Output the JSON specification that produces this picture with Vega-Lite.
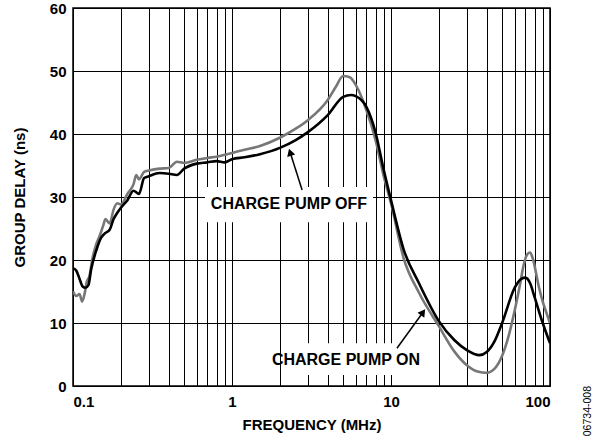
{
  "$schema": "https://vega.github.io/schema/vega-lite/v6.json",
  "width": 477,
  "height": 378,
  "autosize": "none",
  "padding": {"left": 73, "top": 8, "right": 55, "bottom": 57},
  "background": "white",
  "title": {"text": "06734-008", "orient": "right", "anchor": "end", "frame": "group", "angle": -90, "fontSize": 10.5, "fontWeight": "normal", "font": "Liberation Sans", "color": "black", "offset": 22},
  "config": {
    "font": "Liberation Sans",
    "view": {"stroke": "black", "strokeWidth": 1.5},
    "axis": {
      "grid": true, "gridColor": "black", "gridOpacity": 1, "gridWidth": 1,
      "domain": false, "ticks": false,
      "labelFontSize": 15, "labelFontWeight": "bold", "labelColor": "black",
      "titleFontSize": 15, "titleFontWeight": "bold", "titleColor": "black"
    }
  },
  "datasets": {
    "curves": [
      {"f": 0.1, "delay": 15.0, "series": "ON"},
      {"f": 0.105, "delay": 14.3, "series": "ON"},
      {"f": 0.11, "delay": 14.6, "series": "ON"},
      {"f": 0.114, "delay": 13.4, "series": "ON"},
      {"f": 0.118, "delay": 14.5, "series": "ON"},
      {"f": 0.122, "delay": 16.5, "series": "ON"},
      {"f": 0.127, "delay": 17.5, "series": "ON"},
      {"f": 0.132, "delay": 20.0, "series": "ON"},
      {"f": 0.14, "delay": 22.5, "series": "ON"},
      {"f": 0.148, "delay": 24.0, "series": "ON"},
      {"f": 0.155, "delay": 25.5, "series": "ON"},
      {"f": 0.16, "delay": 26.5, "series": "ON"},
      {"f": 0.17, "delay": 25.8, "series": "ON"},
      {"f": 0.18, "delay": 28.0, "series": "ON"},
      {"f": 0.19, "delay": 29.0, "series": "ON"},
      {"f": 0.2, "delay": 28.8, "series": "ON"},
      {"f": 0.22, "delay": 30.5, "series": "ON"},
      {"f": 0.24, "delay": 32.0, "series": "ON"},
      {"f": 0.25, "delay": 33.5, "series": "ON"},
      {"f": 0.26, "delay": 32.8, "series": "ON"},
      {"f": 0.28, "delay": 34.0, "series": "ON"},
      {"f": 0.3, "delay": 34.2, "series": "ON"},
      {"f": 0.35, "delay": 34.5, "series": "ON"},
      {"f": 0.4, "delay": 34.6, "series": "ON"},
      {"f": 0.45, "delay": 35.6, "series": "ON"},
      {"f": 0.5, "delay": 35.4, "series": "ON"},
      {"f": 0.6, "delay": 35.9, "series": "ON"},
      {"f": 0.7, "delay": 36.2, "series": "ON"},
      {"f": 0.8, "delay": 36.4, "series": "ON"},
      {"f": 1.0, "delay": 37.0, "series": "ON"},
      {"f": 1.2, "delay": 37.5, "series": "ON"},
      {"f": 1.5, "delay": 38.1, "series": "ON"},
      {"f": 2.0, "delay": 39.4, "series": "ON"},
      {"f": 2.5, "delay": 40.8, "series": "ON"},
      {"f": 3.0, "delay": 42.2, "series": "ON"},
      {"f": 4.0, "delay": 45.4, "series": "ON"},
      {"f": 4.5, "delay": 47.5, "series": "ON"},
      {"f": 5.0, "delay": 49.2, "series": "ON"},
      {"f": 5.5, "delay": 49.0, "series": "ON"},
      {"f": 6.0, "delay": 47.8, "series": "ON"},
      {"f": 7.0, "delay": 43.8, "series": "ON"},
      {"f": 8.0, "delay": 39.0, "series": "ON"},
      {"f": 9.0, "delay": 33.3, "series": "ON"},
      {"f": 10.0, "delay": 29.0, "series": "ON"},
      {"f": 12.0, "delay": 20.3, "series": "ON"},
      {"f": 15.0, "delay": 14.8, "series": "ON"},
      {"f": 20.0, "delay": 9.5, "series": "ON"},
      {"f": 25.0, "delay": 5.5, "series": "ON"},
      {"f": 30.0, "delay": 3.3, "series": "ON"},
      {"f": 35.0, "delay": 2.3, "series": "ON"},
      {"f": 40.0, "delay": 2.1, "series": "ON"},
      {"f": 45.0, "delay": 2.8, "series": "ON"},
      {"f": 50.0, "delay": 4.8, "series": "ON"},
      {"f": 55.0, "delay": 8.0, "series": "ON"},
      {"f": 60.0, "delay": 12.0, "series": "ON"},
      {"f": 65.0, "delay": 16.3, "series": "ON"},
      {"f": 68.0, "delay": 19.0, "series": "ON"},
      {"f": 72.0, "delay": 20.9, "series": "ON"},
      {"f": 75.0, "delay": 21.2, "series": "ON"},
      {"f": 78.0, "delay": 20.2, "series": "ON"},
      {"f": 85.0, "delay": 15.8, "series": "ON"},
      {"f": 90.0, "delay": 13.4, "series": "ON"},
      {"f": 95.0, "delay": 11.6, "series": "ON"},
      {"f": 100.0, "delay": 10.0, "series": "ON"},
      {"f": 0.1, "delay": 18.7, "series": "OFF"},
      {"f": 0.105, "delay": 18.3, "series": "OFF"},
      {"f": 0.11, "delay": 17.0, "series": "OFF"},
      {"f": 0.115, "delay": 15.8, "series": "OFF"},
      {"f": 0.12, "delay": 15.6, "series": "OFF"},
      {"f": 0.125, "delay": 16.0, "series": "OFF"},
      {"f": 0.13, "delay": 18.5, "series": "OFF"},
      {"f": 0.14, "delay": 21.5, "series": "OFF"},
      {"f": 0.15, "delay": 23.5, "series": "OFF"},
      {"f": 0.16, "delay": 24.3, "series": "OFF"},
      {"f": 0.17, "delay": 24.8, "series": "OFF"},
      {"f": 0.18, "delay": 26.5, "series": "OFF"},
      {"f": 0.19, "delay": 27.5, "series": "OFF"},
      {"f": 0.2, "delay": 28.3, "series": "OFF"},
      {"f": 0.22, "delay": 29.5, "series": "OFF"},
      {"f": 0.24, "delay": 31.0, "series": "OFF"},
      {"f": 0.26, "delay": 30.5, "series": "OFF"},
      {"f": 0.28, "delay": 33.0, "series": "OFF"},
      {"f": 0.3, "delay": 33.3, "series": "OFF"},
      {"f": 0.35, "delay": 33.8, "series": "OFF"},
      {"f": 0.4, "delay": 33.7, "series": "OFF"},
      {"f": 0.45, "delay": 33.5, "series": "OFF"},
      {"f": 0.5, "delay": 34.5, "series": "OFF"},
      {"f": 0.6, "delay": 35.3, "series": "OFF"},
      {"f": 0.7, "delay": 35.5, "series": "OFF"},
      {"f": 0.8, "delay": 35.7, "series": "OFF"},
      {"f": 0.9, "delay": 35.5, "series": "OFF"},
      {"f": 1.0, "delay": 36.0, "series": "OFF"},
      {"f": 1.2, "delay": 36.3, "series": "OFF"},
      {"f": 1.5, "delay": 36.8, "series": "OFF"},
      {"f": 2.0, "delay": 37.8, "series": "OFF"},
      {"f": 2.5, "delay": 39.0, "series": "OFF"},
      {"f": 3.0, "delay": 40.3, "series": "OFF"},
      {"f": 4.0, "delay": 43.0, "series": "OFF"},
      {"f": 5.0, "delay": 45.9, "series": "OFF"},
      {"f": 5.6, "delay": 46.2, "series": "OFF"},
      {"f": 6.0, "delay": 46.0, "series": "OFF"},
      {"f": 7.0, "delay": 44.3, "series": "OFF"},
      {"f": 8.0, "delay": 40.2, "series": "OFF"},
      {"f": 9.0, "delay": 34.3, "series": "OFF"},
      {"f": 10.0, "delay": 29.5, "series": "OFF"},
      {"f": 12.0, "delay": 21.7, "series": "OFF"},
      {"f": 15.0, "delay": 16.3, "series": "OFF"},
      {"f": 20.0, "delay": 10.3, "series": "OFF"},
      {"f": 25.0, "delay": 7.3, "series": "OFF"},
      {"f": 30.0, "delay": 5.7, "series": "OFF"},
      {"f": 36.0, "delay": 4.9, "series": "OFF"},
      {"f": 40.0, "delay": 5.4, "series": "OFF"},
      {"f": 45.0, "delay": 7.2, "series": "OFF"},
      {"f": 50.0, "delay": 10.0, "series": "OFF"},
      {"f": 60.0, "delay": 15.6, "series": "OFF"},
      {"f": 66.0, "delay": 17.0, "series": "OFF"},
      {"f": 70.0, "delay": 17.2, "series": "OFF"},
      {"f": 75.0, "delay": 16.3, "series": "OFF"},
      {"f": 80.0, "delay": 14.1, "series": "OFF"},
      {"f": 90.0, "delay": 10.0, "series": "OFF"},
      {"f": 100.0, "delay": 6.8, "series": "OFF"}
    ],
    "labels": [
      {"label": "CHARGE PUMP OFF", "fx": 2.28, "ly": 28.9, "bx1": 0.676, "bx2": 7.71, "by1": 26.0, "by2": 31.6},
      {"label": "CHARGE PUMP ON", "fx": 5.21, "ly": 4.1, "bx1": 3.0, "bx2": 10.7, "by1": 1.75, "by2": 6.8}
    ],
    "arrows": [
      {"name": "OFF", "x1": 2.76, "y1": 31.1, "x2": 2.32, "y2": 37.1},
      {"name": "ON", "x1": 10.9, "y1": 6.0, "x2": 15.9, "y2": 11.7}
    ]
  },
  "layer": [
    {
      "data": {"name": "curves"},
      "mark": {"type": "line", "strokeWidth": 2.6, "clip": true, "interpolate": "monotone"},
      "encoding": {
        "x": {
          "field": "f", "type": "quantitative",
          "scale": {"type": "log", "domain": [0.1, 100], "nice": false},
          "axis": {
            "title": "FREQUENCY (MHz)",
            "values": [0.1, 0.2, 0.3, 0.4, 0.5, 0.6, 0.7, 0.8, 0.9, 1, 2, 3, 4, 5, 6, 7, 8, 9, 10, 20, 30, 40, 50, 60, 70, 80, 90, 100],
            "labelExpr": "datum.value == 0.1 ? '0.1' : datum.value == 1 ? '1' : datum.value == 10 ? '10' : datum.value == 100 ? '100' : ''",
            "labelPadding": 8,
            "titlePadding": 8
          }
        },
        "y": {
          "field": "delay", "type": "quantitative",
          "scale": {"domain": [0, 60], "nice": false},
          "axis": {"title": "GROUP DELAY (ns)", "values": [0, 10, 20, 30, 40, 50, 60], "labelPadding": 7, "titlePadding": 22}
        },
        "color": {
          "field": "series", "type": "nominal",
          "scale": {"domain": ["OFF", "ON"], "range": ["#000000", "#777777"]},
          "legend": null
        },
        "order": {"field": "f"}
      }
    },
    {
      "data": {"name": "labels"},
      "mark": {"type": "rect", "fill": "white"},
      "encoding": {
        "x": {"field": "bx1", "type": "quantitative"},
        "x2": {"field": "bx2"},
        "y": {"field": "by1", "type": "quantitative"},
        "y2": {"field": "by2"}
      }
    },
    {
      "data": {"name": "labels"},
      "mark": {"type": "text", "fontSize": 16, "fontWeight": "bold", "color": "black", "align": "center", "baseline": "middle"},
      "encoding": {
        "x": {"field": "fx", "type": "quantitative"},
        "y": {"field": "ly", "type": "quantitative"},
        "text": {"field": "label"}
      }
    },
    {
      "data": {"name": "arrows"},
      "mark": {"type": "rule", "color": "black", "strokeWidth": 1.5},
      "encoding": {
        "x": {"field": "x1", "type": "quantitative"},
        "y": {"field": "y1", "type": "quantitative"},
        "x2": {"field": "x2"},
        "y2": {"field": "y2"}
      }
    },
    {
      "data": {"name": "arrows"},
      "transform": [{"filter": "datum.name == 'OFF'"}],
      "mark": {"type": "point", "shape": "triangle-up", "filled": true, "color": "black", "size": 70, "opacity": 1, "angle": 342},
      "encoding": {
        "x": {"field": "x2", "type": "quantitative"},
        "y": {"field": "y2", "type": "quantitative"}
      }
    },
    {
      "data": {"name": "arrows"},
      "transform": [{"filter": "datum.name == 'ON'"}],
      "mark": {"type": "point", "shape": "triangle-up", "filled": true, "color": "black", "size": 70, "opacity": 1, "angle": 36},
      "encoding": {
        "x": {"field": "x2", "type": "quantitative"},
        "y": {"field": "y2", "type": "quantitative"}
      }
    }
  ]
}
